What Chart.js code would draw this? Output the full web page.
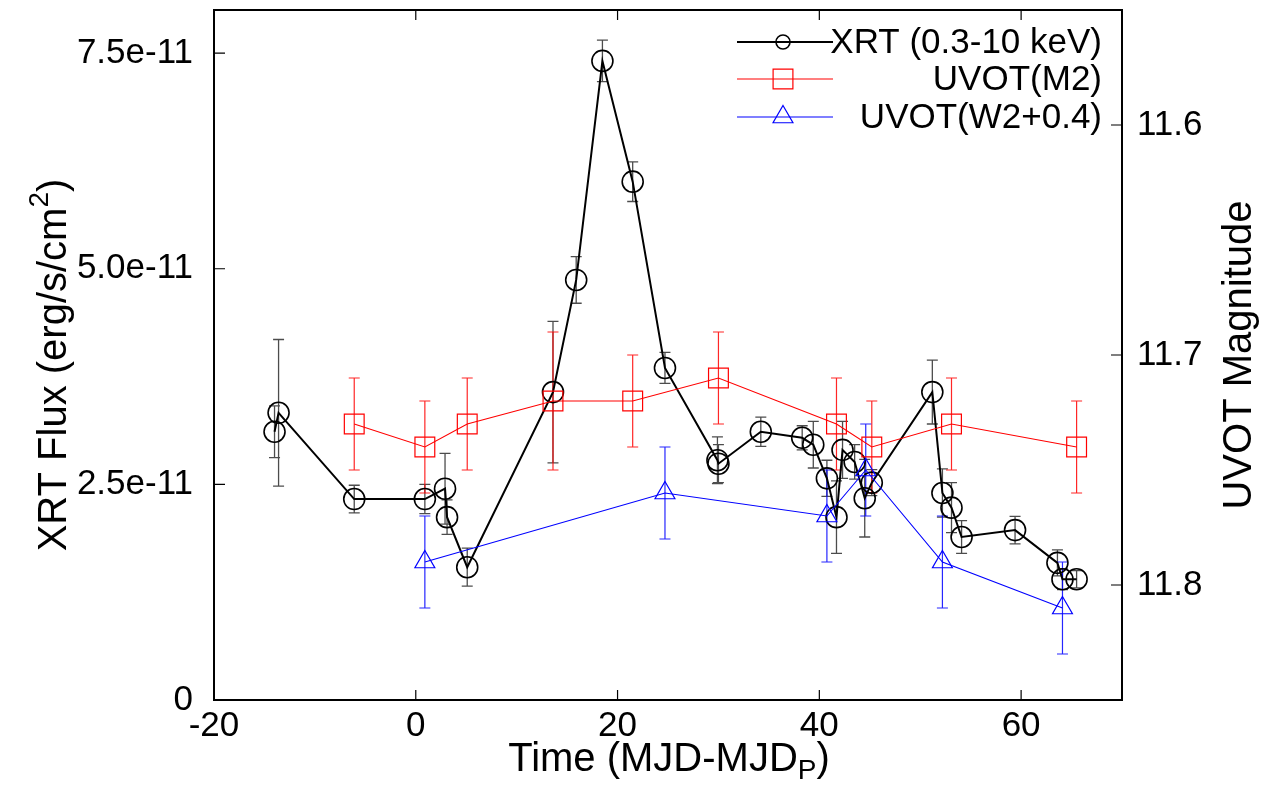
<!DOCTYPE html>
<html>
<head>
<meta charset="utf-8">
<title>XRT / UVOT light curve</title>
<script src="https://cdn.jsdelivr.net/npm/chart.js@4.4.1/dist/chart.umd.min.js"></script>
<style>
    html, body { margin: 0; padding: 0; background: #fff; }
    #wrap { width: 1285px; height: 786px; }
</style>
</head>
<body>
<div id="wrap"><canvas id="lightCurve" width="1285" height="786"></canvas></div>
<script>
// XRT flux (units of 1e-11 erg/s/cm^2)
const xrtTime = [-14.0, -13.6, -6.1, 0.9, 2.9, 3.1, 5.1, 13.6, 15.9, 18.5, 21.5, 24.7, 29.9, 30.0, 34.2,
                 38.3, 39.4, 40.75, 41.7, 42.3, 43.5, 44.5, 45.2, 51.2, 52.2, 53.1, 54.1, 59.4, 63.6, 64.1, 65.5];
const xrtFlux = [3.11, 3.33, 2.33, 2.33, 2.45, 2.12, 1.54, 3.57, 4.87, 7.41, 6.01, 3.85, 2.78, 2.74, 3.11,
                 3.04, 2.96, 2.57, 2.12, 2.90, 2.76, 2.34, 2.52, 3.57, 2.40, 2.23, 1.89, 1.97, 1.59, 1.40, 1.40];
const xrtErr  = [0.30, 0.85, 0.16, 0.17, 0.41, 0.20, 0.22, 0.82, 0.27, 0.24, 0.23, 0.18, 0.27, 0.22, 0.17,
                 0.14, 0.27, 0.21, 0.42, 0.33, 0.20, 0.45, 0.15, 0.37, 0.28, 0.29, 0.19, 0.16, 0.15, 0.12, 0.10];

// UVOT M2 magnitudes
const m2Time = [-6.1, 0.9, 5.1, 13.6, 21.5, 30.0, 41.7, 45.2, 53.1, 65.5];
const m2Mag  = [11.73, 11.74, 11.73, 11.72, 11.72, 11.71, 11.73, 11.74, 11.73, 11.74];
const m2Err  = [0.02, 0.02, 0.02, 0.03, 0.02, 0.02, 0.02, 0.02, 0.02, 0.02];

// UVOT W2 magnitudes, shifted by +0.4
const w2Time = [0.9, 24.7, 40.75, 44.6, 52.2, 64.1];
const w2Mag  = [11.79, 11.76, 11.77, 11.75, 11.79, 11.81];
const w2Err  = [0.02, 0.02, 0.02, 0.02, 0.02, 0.02];

const timeTicks = [-20, 0, 20, 40, 60];
const fluxTicks = [0, 2.5, 5.0, 7.5];
const fluxTickLabels = ['0', '2.5e-11', '5.0e-11', '7.5e-11'];
const magTicks = [11.6, 11.7, 11.8];

const FONT = '"Liberation Sans", Arial, Helvetica, sans-serif';

function points(xs, ys, errs) {
    return xs.map((x, i) => ({ x: x, y: ys[i], err: errs[i] }));
}

// vertical error bars with small caps
const errorBars = {
    id: 'errorBars',
    beforeDatasetsDraw(chart) {
        const ctx = chart.ctx;
        chart.data.datasets.forEach((ds, i) => {
            const meta = chart.getDatasetMeta(i);
            const xs = chart.scales[meta.xAxisID];
            const ys = chart.scales[meta.yAxisID];
            ctx.save();
            ctx.strokeStyle = ds.errorColor;
            ctx.lineWidth = ds.errorWidth;
            ctx.beginPath();
            ds.data.forEach(p => {
                const px = xs.getPixelForValue(p.x);
                const y1 = ys.getPixelForValue(p.y - p.err);
                const y2 = ys.getPixelForValue(p.y + p.err);
                ctx.moveTo(px, y1); ctx.lineTo(px, y2);
                ctx.moveTo(px - 5.5, y1); ctx.lineTo(px + 5.5, y1);
                ctx.moveTo(px - 5.5, y2); ctx.lineTo(px + 5.5, y2);
            });
            ctx.stroke();
            ctx.restore();
        });
    }
};

// text with a raised or lowered piece (cm^2, MJD_P)
function richText(ctx, parts, x, y, size, align) {
    const widths = parts.map(p => {
        ctx.font = (p.sup || p.sub ? size * 0.7 : size) + 'px ' + FONT;
        return ctx.measureText(p.t).width;
    });
    const total = widths.reduce((a, b) => a + b, 0);
    let cx = align === 'center' ? x - total / 2 : x;
    parts.forEach((p, i) => {
        ctx.font = (p.sup || p.sub ? size * 0.7 : size) + 'px ' + FONT;
        const dy = p.sup ? -size * 0.38 : (p.sub ? size * 0.28 : 0);
        ctx.fillText(p.t, cx, y + dy);
        cx += widths[i];
    });
}

// box, inward ticks, tick labels, axis titles and key
const frame = {
    id: 'frame',
    afterDraw(chart) {
        const { ctx, chartArea: a, scales } = chart;
        ctx.save();
        ctx.strokeStyle = '#000';
        ctx.lineWidth = 1.2;
        ctx.beginPath();
        timeTicks.forEach(v => {
            const px = scales.x.getPixelForValue(v);
            ctx.moveTo(px, a.bottom); ctx.lineTo(px, a.bottom - 10);
            ctx.moveTo(px, a.top); ctx.lineTo(px, a.top + 10);
        });
        fluxTicks.forEach(v => {
            const py = scales.yFlux.getPixelForValue(v);
            ctx.moveTo(a.left, py); ctx.lineTo(a.left + 11, py);
        });
        magTicks.forEach(v => {
            const py = scales.yMag.getPixelForValue(v);
            ctx.moveTo(a.right, py); ctx.lineTo(a.right - 11, py);
        });
        ctx.stroke();
        ctx.lineWidth = 2;
        ctx.strokeRect(a.left, a.top, a.right - a.left, a.bottom - a.top);

        // tick labels
        ctx.fillStyle = '#000';
        ctx.font = '35px ' + FONT;
        ctx.textBaseline = 'middle';
        ctx.textAlign = 'center';
        timeTicks.forEach(v => ctx.fillText(String(v), scales.x.getPixelForValue(v), a.bottom + 26));
        ctx.textAlign = 'right';
        fluxTicks.forEach((v, i) => ctx.fillText(fluxTickLabels[i], a.left - 21, scales.yFlux.getPixelForValue(v)));
        ctx.textAlign = 'left';
        magTicks.forEach(v => ctx.fillText(v.toFixed(1), a.right + 15, scales.yMag.getPixelForValue(v)));

        // axis titles
        richText(ctx, [{ t: 'Time (MJD-MJD' }, { t: 'P', sub: true }, { t: ')' }], 669, 760, 40, 'center');

        ctx.save();
        ctx.translate(55, 365);
        ctx.rotate(-Math.PI / 2);
        richText(ctx, [{ t: 'XRT Flux (erg/s/cm' }, { t: '2', sup: true }, { t: ')' }], 0, 0, 40, 'center');
        ctx.restore();

        ctx.save();
        ctx.translate(1240, 355);
        ctx.rotate(-Math.PI / 2);
        ctx.textAlign = 'center';
        ctx.font = '40px ' + FONT;
        ctx.fillText('UVOT Magnitude', 0, 0);
        ctx.restore();

        // key, text right aligned
        const rows = [42, 79, 117];
        chart.data.datasets.forEach((ds, i) => {
            const y = rows[i];
            ctx.strokeStyle = ds.borderColor;
            ctx.lineWidth = ds.borderWidth;
            ctx.beginPath();
            ctx.moveTo(737, y); ctx.lineTo(833, y);
            ctx.stroke();
            ctx.lineWidth = ds.pointBorderWidth;
            ctx.fillStyle = 'rgba(0,0,0,0)';
            Chart.helpers.drawPoint(ctx, {
                pointStyle: ds.pointStyle,
                radius: ds.keyRadius,
                rotation: 0,
                borderWidth: ds.pointBorderWidth
            }, 783, y);
            ctx.fillStyle = '#000';
            ctx.font = '35px ' + FONT;
            ctx.textAlign = 'right';
            ctx.fillText(ds.label, 1102, y + 1);
        });
        ctx.restore();
    }
};

// fixed box sizes; labels are drawn by the frame plugin
function fixSize(prop, size) {
    return s => { s[prop] = size; };
}

const hiddenAxis = {
    grid: { display: false, drawTicks: false },
    border: { display: false },
    ticks: { display: false }
};

new Chart(document.getElementById('lightCurve'), {
    type: 'line',
    data: {
        datasets: [
            {
                label: 'XRT (0.3-10 keV)',
                data: points(xrtTime, xrtFlux, xrtErr),
                yAxisID: 'yFlux',
                borderColor: '#000',
                borderWidth: 2,
                pointStyle: 'circle',
                pointRadius: 10.5,
                keyRadius: 7,
                pointBorderWidth: 1.6,
                pointBorderColor: '#000',
                pointBackgroundColor: 'rgba(0,0,0,0)',
                errorColor: 'rgba(0,0,0,0.7)',
                errorWidth: 1.3,
                tension: 0,
                order: 3
            },
            {
                label: 'UVOT(M2)',
                data: points(m2Time, m2Mag, m2Err),
                yAxisID: 'yMag',
                borderColor: '#ff0000',
                borderWidth: 1.1,
                pointStyle: 'rect',
                pointRadius: 14,
                keyRadius: 14,
                pointBorderWidth: 1.2,
                pointBorderColor: '#ff0000',
                pointBackgroundColor: 'rgba(0,0,0,0)',
                errorColor: 'rgba(255,0,0,0.85)',
                errorWidth: 1.2,
                tension: 0,
                order: 2
            },
            {
                label: 'UVOT(W2+0.4)',
                data: points(w2Time, w2Mag, w2Err),
                yAxisID: 'yMag',
                borderColor: '#0000ff',
                borderWidth: 1.1,
                pointStyle: 'triangle',
                pointRadius: 11.5,
                keyRadius: 11.5,
                pointBorderWidth: 1.2,
                pointBorderColor: '#0000ff',
                pointBackgroundColor: 'rgba(0,0,0,0)',
                errorColor: 'rgba(0,0,255,0.85)',
                errorWidth: 1.2,
                tension: 0,
                order: 1
            }
        ]
    },
    options: {
        responsive: false,
        animation: false,
        devicePixelRatio: 1,
        layout: { autoPadding: false, padding: { top: 10, left: 0, right: 0, bottom: 0 } },
        plugins: {
            legend: { display: false },
            tooltip: { enabled: false }
        },
        scales: {
            x: Object.assign({
                type: 'linear',
                position: 'bottom',
                min: -20,
                max: 70,
                afterFit: fixSize('height', 86)
            }, hiddenAxis),
            yFlux: Object.assign({
                type: 'linear',
                position: 'left',
                min: 0,
                max: 8,
                afterFit: fixSize('width', 214)
            }, hiddenAxis),
            yMag: Object.assign({
                type: 'linear',
                position: 'right',
                reverse: true,
                min: 11.55,
                max: 11.85,
                afterFit: fixSize('width', 163)
            }, hiddenAxis)
        }
    },
    plugins: [errorBars, frame]
});
</script>
</body>
</html>
